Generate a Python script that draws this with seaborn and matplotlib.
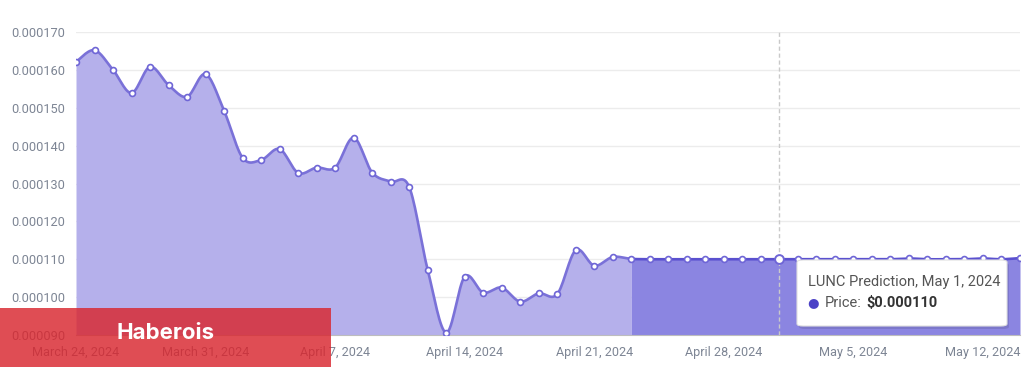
import numpy as np
import pandas as pd
import matplotlib
matplotlib.use("Agg")
import matplotlib.pyplot as plt
from matplotlib.patches import FancyBboxPatch, Rectangle
import seaborn as sns

# daily prices (history then prediction)
dates = pd.date_range("2024-03-24", "2024-05-14", freq="D")
history = [0.0001621, 0.0001652, 0.0001600, 0.0001539, 0.0001608, 0.0001560,
           0.0001529, 0.0001589, 0.0001492, 0.0001368, 0.0001362, 0.0001391,
           0.0001328, 0.0001342, 0.0001342, 0.0001421, 0.0001329, 0.0001305,
           0.0001291, 0.0001072, 0.0000906, 0.0001054, 0.0001012, 0.0001025,
           0.0000988, 0.0001010, 0.0001008, 0.0001124, 0.0001083, 0.0001106,
           0.0001101]
prediction = [0.0001100, 0.0001100, 0.0001100, 0.0001100, 0.0001100, 0.0001100,
              0.0001100, 0.0001100, 0.0001100, 0.0001100, 0.0001100, 0.0001100,
              0.0001100, 0.0001100, 0.0001102, 0.0001100, 0.0001100, 0.0001100,
              0.0001102, 0.0001100, 0.0001103]
tick_days = [0, 7, 14, 21, 28, 35, 42, 49]
tick_labels = ["March 24, 2024", "March 31, 2024", "April 7, 2024", "April 14, 2024",
               "April 21, 2024", "April 28, 2024", "May 5, 2024", "May 12, 2024"]
y_ticks = [0.00009, 0.0001, 0.00011, 0.00012, 0.00013, 0.00014, 0.00015, 0.00016, 0.00017]
hover_day = 38

values = history + prediction
days = np.arange(len(values))
n_hist = len(history)


def catmull(x, y, steps=16):
    x = np.asarray(x, float)
    y = np.asarray(y, float)
    px = np.concatenate([[x[0]], x, [x[-1]]])
    py = np.concatenate([[y[0]], y, [y[-1]]])
    xs, ys = [], []
    t = np.linspace(0, 1, steps, endpoint=False)
    for i in range(1, len(px) - 2):
        x0, x1, x2, x3 = px[i - 1:i + 3]
        y0, y1, y2, y3 = py[i - 1:i + 3]
        mx1, mx2 = (x2 - x0) / 2, (x3 - x1) / 2
        my1, my2 = (y2 - y0) / 2, (y3 - y1) / 2
        h00 = 2 * t**3 - 3 * t**2 + 1
        h10 = t**3 - 2 * t**2 + t
        h01 = -2 * t**3 + 3 * t**2
        h11 = t**3 - t**2
        xs.append(h00 * x1 + h10 * mx1 + h01 * x2 + h11 * mx2)
        ys.append(h00 * y1 + h10 * my1 + h01 * y2 + h11 * my2)
    xs.append([x[-1]])
    ys.append([y[-1]])
    return np.concatenate(xs), np.concatenate(ys)


sx, sy = catmull(days, values)
split = n_hist - 1

sns.set_style("white")
plt.rcParams["font.family"] = ["Roboto", "DejaVu Sans"]

fig = plt.figure(figsize=(10.24, 3.67), dpi=100)
ax = fig.add_axes([76 / 1024, 1 - 335 / 367, 944 / 1024, 303 / 367])

ymin, ymax = 0.00009, 0.00017
ax.set_ylim(ymin, ymax)
ax.set_xlim(0, len(values) - 1)

hist_mask = sx <= split
pred_mask = sx >= split
ax.fill_between(sx[hist_mask], sy[hist_mask], ymin, color="#b5b0eb", lw=0, zorder=1)
ax.fill_between(sx[pred_mask], sy[pred_mask], ymin, color="#8b85e1", lw=0, zorder=1)

sns.lineplot(x=sx[hist_mask], y=sy[hist_mask], sort=False, ax=ax, color="#7a71d8",
             lw=1.9, zorder=3)
sns.lineplot(x=sx[pred_mask], y=sy[pred_mask], sort=False, ax=ax, color="#5a50cf",
             lw=1.9, zorder=3)

pts = pd.DataFrame({"day": days, "price": values})
sns.scatterplot(data=pts, x="day", y="price", ax=ax, s=18, color="white",
                edgecolor="#6f66d6", linewidth=1.2, zorder=4)
ax.scatter([hover_day], [values[hover_day]], s=40, color="white",
           edgecolor="#6f66d6", linewidth=1.4, zorder=5)

ax.axvline(hover_day, color="#c9c9c9", lw=1, ls=(0, (3, 2)), zorder=2)

ax.set_yticks(y_ticks)
ax.set_yticklabels([f"{v:.6f}" for v in y_ticks])
ax.set_xticks(tick_days)
ax.set_xticklabels(tick_labels)
ax.grid(axis="y", color="#ececec", lw=1)
ax.set_axisbelow(True)
for s in ["top", "right", "left"]:
    ax.spines[s].set_visible(False)
ax.spines["bottom"].set_color("#bdbdbd")
ax.tick_params(axis="y", length=0, pad=8, labelsize=9.2, labelcolor="#7d8594")
ax.tick_params(axis="x", length=5, width=1, color="#bdbdbd", pad=3,
               labelsize=9.1, labelcolor="#7d8594", direction="out")
ax.set_xlabel("")
ax.set_ylabel("")

# tooltip
box = FancyBboxPatch((797 / 1024, 1 - 326 / 367), 210 / 1024, 66 / 367,
                     boxstyle="round,pad=0,rounding_size=0.006",
                     transform=fig.transFigure, facecolor="white",
                     edgecolor="#e0e0e0", lw=0.8, zorder=10)
shadow = FancyBboxPatch((799 / 1024, 1 - 329 / 367), 210 / 1024, 66 / 367,
                        boxstyle="round,pad=0,rounding_size=0.006",
                        transform=fig.transFigure, facecolor="#000000",
                        alpha=0.10, lw=0, zorder=9)
fig.patches.extend([shadow, box])
fig.text(808 / 1024, 1 - 282 / 367, "LUNC Prediction, May 1, 2024", fontsize=10.5,
         color="#555555", va="center", zorder=11)
fig.text(813 / 1024, 1 - 303 / 367, "\u25cf", fontsize=9.5, color="#4b41c6",
         va="center", ha="center", zorder=11, family=["DejaVu Sans"])
fig.text(825 / 1024, 1 - 303 / 367, "Price:", fontsize=10.5, color="#555555",
         va="center", zorder=11)
fig.text(866 / 1024, 1 - 303 / 367, "$0.000110", fontsize=10.5, color="#333333",
         fontweight="bold", va="center", zorder=11)

# watermark
fig.patches.append(Rectangle((0, 0), 331 / 1024, 59 / 367, transform=fig.transFigure,
                             facecolor="#d9262e", alpha=0.82, lw=0, zorder=12))
fig.text(166 / 1024, 1 - 333 / 367, "Haberois", fontsize=16, color="white",
         fontweight="bold", ha="center", va="center", zorder=13, family=["Inter", "DejaVu Sans"])

fig.savefig("out.png", dpi=100)
